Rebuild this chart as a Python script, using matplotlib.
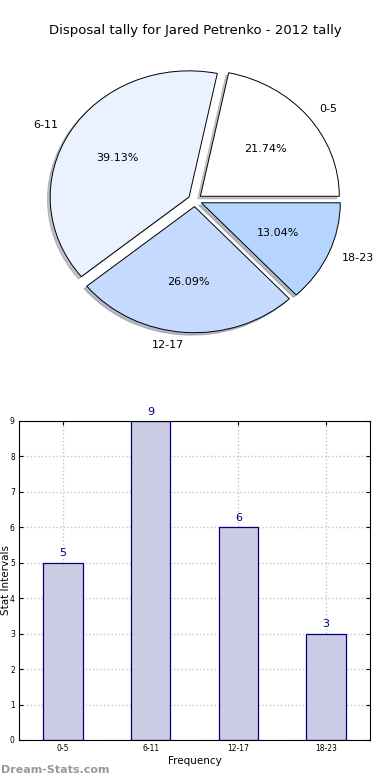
import numpy as np
import matplotlib
matplotlib.use("Agg")
import matplotlib.pyplot as plt

labels = ["0-5", "6-11", "12-17", "18-23"]
counts = [5, 9, 6, 3]
pie_colors = ["#FFFFFF", "#EAF1FF", "#C6D9FF", "#B5D5FF"]

fig = plt.figure(figsize=(3.9, 7.8), dpi=100)

# pie on top (old style, not forced round)
ax1 = fig.add_axes([0.037, 0.533, 0.926, 0.4205])
wedges, texts, autotexts = ax1.pie(counts, labels=labels, colors=pie_colors,
                                   explode=[0.05] * 4, autopct="%1.2f%%",
                                   shadow={"ox": -0.014, "oy": -0.014, "shade": 0.45},
                                   startangle=0,
                                   wedgeprops={"edgecolor": "black", "linewidth": 0.7},
                                   textprops={"fontsize": 8})
ax1.set_aspect("auto")
ax1.set_xlim(-1.3, 1.3)
ax1.set_ylim(-1.3, 1.3)
fig.text(0.5, 0.9615, "Disposal tally for Jared Petrenko - 2012 tally",
         ha="center", va="center", fontsize=9.5)

# bars below
ax2 = fig.add_axes([0.0487, 0.0513, 0.9, 0.409])
x = np.arange(len(labels))
ax2.bar(x, counts, width=0.45, color="#CCCCE5", edgecolor="#000080", linewidth=0.9, zorder=2)
for xi, c in zip(x, counts):
    ax2.text(xi, c + 0.12, str(c), ha="center", va="bottom", color="#000080", fontsize=8)
ax2.set_xlim(-0.5, 3.5)
ax2.set_ylim(0, 9)
ax2.set_xticks(x)
ax2.set_xticklabels(labels)
ax2.set_yticks(range(10))
ax2.tick_params(labelsize=5.5, direction="in", length=3, pad=3, top=True, right=True)
ax2.grid(True, linestyle=":", color="#C4C4C4", linewidth=1, zorder=0)
ax2.set_xlabel("Frequency", fontsize=7.5, labelpad=2)
ax2.set_ylabel("Stat Intervals", fontsize=7.5, va="center")
ax2.yaxis.set_label_coords(-0.037, 0.5)

fig.text(0.003, 0.0128, "Dream-Stats.com", fontsize=8, color="#999999",
         fontweight="bold", va="center")

fig.savefig("out.png", dpi=100)
